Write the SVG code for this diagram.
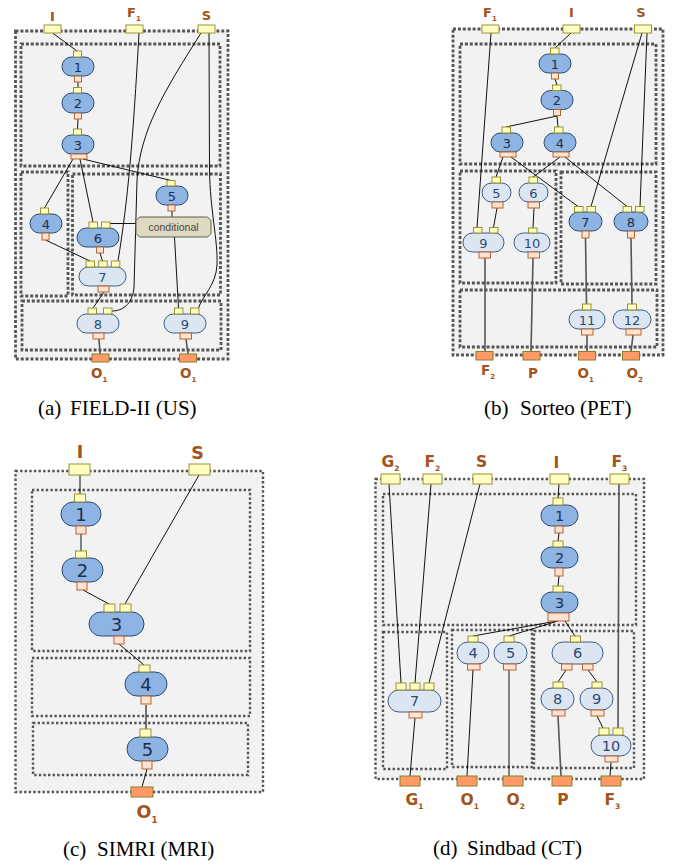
<svg xmlns="http://www.w3.org/2000/svg" width="678" height="865" viewBox="0 0 678 865">
<style>
.bx{fill:#f2f2f2;stroke:#555;stroke-width:2.8;stroke-dasharray:3 1.9}
.bx2{fill:#f2f2f2;stroke:#555;stroke-width:2.4;stroke-dasharray:2.4 2.2}
.nb{fill:#8db4e2;stroke:#2c4a72;stroke-width:1}
.nl{fill:#dce6f2;stroke:#3d5c86;stroke-width:1}
.ip{fill:#ffffc2;stroke:#9a9430;stroke-width:1}
.op{fill:#fde3d3;stroke:#b9652c;stroke-width:1}
.fo{fill:#ff9966;stroke:#8c7f2a;stroke-width:1}
.e{fill:none;stroke:#111;stroke-width:1}
.eg{fill:none;stroke:#555;stroke-width:1.6}
.t{font-family:"DejaVu Sans",sans-serif;fill:#1d2f4e;text-anchor:middle}
.tl{font-family:"DejaVu Sans",sans-serif;fill:#2d4a73;text-anchor:middle}
.lb{font-family:"DejaVu Sans",sans-serif;font-weight:bold;fill:#a3531c}
.sub{font-size:7px}
.cap{font-family:"Liberation Serif",serif;font-size:21px;fill:#000}
.cond{fill:#ddd9c3;stroke:#5f5f46;stroke-width:1}
</style>

<!-- ===== Panel (a) clusters ===== -->
<g id="a-clusters">
<rect class="bx" x="15.5" y="31" width="212.5" height="328"/>
<rect class="bx" x="21" y="44" width="199" height="122"/>
<rect class="bx" x="21" y="172" width="47" height="124"/>
<rect class="bx" x="72.5" y="174" width="148" height="121"/>
<rect class="bx" x="22" y="301" width="199" height="49"/>
</g>
<!-- ===== Panel (b) clusters ===== -->
<g id="b-clusters">
<rect class="bx" x="453" y="29" width="210" height="326"/>
<rect class="bx" x="460" y="44" width="196" height="120"/>
<rect class="bx" x="460" y="171" width="96" height="112"/>
<rect class="bx" x="561" y="172" width="95" height="112"/>
<rect class="bx" x="460" y="290" width="197" height="57"/>
</g>
<!-- ===== Panel (c) clusters ===== -->
<g id="c-clusters">
<rect class="bx2" x="15.5" y="471" width="247.5" height="321"/>
<rect class="bx2" x="32" y="490" width="218" height="161"/>
<rect class="bx2" x="32" y="658" width="218" height="58"/>
<rect class="bx2" x="33" y="723" width="215" height="52"/>
</g>
<!-- ===== Panel (d) clusters ===== -->
<g id="d-clusters">
<rect class="bx2" x="375.5" y="479" width="268.5" height="300"/>
<rect class="bx2" x="383" y="494" width="253" height="131"/>
<rect class="bx2" x="383" y="632" width="64" height="137"/>
<rect class="bx2" x="452" y="630" width="80" height="137"/>
<rect class="bx2" x="534" y="631" width="100" height="137"/>
</g>

<!-- ===== Connectors ===== -->
<g id="connectors">
<!-- (a) -->
<path class="e" d="M52.5,33 L77,51"/>
<path class="e" d="M78,82 L78,87.5"/>
<path class="e" d="M78,119 L77.5,129"/>
<path class="e" d="M73,159 L44.5,208"/>
<path class="e" d="M80,159 L93,222"/>
<path class="e" d="M83,159 L171,180.5"/>
<path class="e" d="M172,211 L172,217"/>
<path class="e" d="M136,223.5 L110,223.5"/>
<path class="e" d="M174.5,237 L178.5,308"/>
<path class="e" d="M45.5,240 L90,261"/>
<path class="e" d="M100,253 L102.5,261"/>
<path class="e" d="M139,33 C133,140 128,200 118,261"/>
<path class="e" d="M201,33 C165,90 140,130 137,180 L134,288 C132,305 122,311 112,311"/>
<path class="e" d="M209,33 L209.5,170 C210,210 218,240 217,265 C216,285 203,295 198,309"/>
<path class="e" d="M104,292 L93,308"/>
<path class="eg" d="M99,339 L100,354"/>
<path class="eg" d="M186,339 L188,354"/>
<!-- (b) -->
<path class="e" d="M571,33 L555,48"/>
<path class="e" d="M555,79 L557,85"/>
<path class="e" d="M557,116 L506,127"/>
<path class="e" d="M557,116 L558,127"/>
<path class="e" d="M503,157 L496,177"/>
<path class="e" d="M511,157 L578,206.5"/>
<path class="e" d="M560,157 L533,177"/>
<path class="e" d="M565,157 L627,206.5"/>
<path class="e" d="M491,33 L477,227.5"/>
<path class="e" d="M642,33 L591,206.5"/>
<path class="e" d="M647,33 L640,206.5"/>
<path class="e" d="M497,208 L493.5,227.5"/>
<path class="e" d="M534,208 L533,228"/>
<path class="eg" d="M485,258 L485,351.5"/>
<path class="eg" d="M533,258 L531,351.5"/>
<path class="eg" d="M585.5,238 L586.5,304"/>
<path class="eg" d="M631,238 L632,304"/>
<path class="eg" d="M587,335 L587,351.5"/>
<path class="eg" d="M633,335 L631,351.5"/>
<!-- (c) -->
<path class="e" d="M80,475 L80,494"/>
<path class="e" d="M81,534 L81,551"/>
<path class="e" d="M83,590 L109,604"/>
<path class="e" d="M199,475 L125,604"/>
<path class="e" d="M119,644 L144,665"/>
<path class="eg" d="M146,705 L146,729"/>
<path class="e" d="M147,769 L142,787"/>
<!-- (d) -->
<path class="e" d="M389,484 L401,683"/>
<path class="e" d="M431,484 L415,683"/>
<path class="e" d="M480,484 L429,683"/>
<path class="e" d="M559,484 L558,498"/>
<path class="e" d="M559,533 L558,541"/>
<path class="e" d="M559,576 L558,586"/>
<path class="eg" d="M619,484 L618,728"/>
<path class="e" d="M557,621 L473,636"/>
<path class="e" d="M558,621 L509,636"/>
<path class="e" d="M565,621 L575,636"/>
<path class="e" d="M566,670 L558,682"/>
<path class="e" d="M588,670 L597,682"/>
<path class="e" d="M597,716 L603,728"/>
<path class="e" d="M415,718 L410,776"/>
<path class="e" d="M473,670 L467,776"/>
<path class="e" d="M509,670 L509,776"/>
<path class="eg" d="M558,716 L561,776"/>
<path class="e" d="M611,762 L610,776"/>
</g>

<!-- ===== Panel (a) nodes ===== -->
<g id="a-in-I"><rect class="ip" x="44" y="25" width="17" height="8"/><text class="lb" x="52.5" y="20.5" font-size="13" text-anchor="middle">I</text></g>
<g id="a-in-F1"><rect class="ip" x="126" y="25" width="17" height="8"/><text class="lb" x="127" y="17" font-size="13">F<tspan class="sub" dy="4">1</tspan></text></g>
<g id="a-in-S"><rect class="ip" x="198" y="25" width="17" height="8"/><text class="lb" x="206.5" y="19.5" font-size="13" text-anchor="middle">S</text></g>
<g id="a-n1"><rect class="nb" x="62" y="57" width="32" height="19" rx="9.5"/><rect class="ip" x="73.5" y="51" width="8" height="6"/><rect class="op" x="74.5" y="76" width="7" height="6"/><text class="t" x="78" y="71.5" font-size="13">1</text></g>
<g id="a-n2"><rect class="nb" x="62" y="93" width="32" height="20" rx="10"/><rect class="ip" x="73.5" y="87.5" width="8" height="5.5"/><rect class="op" x="74.5" y="113" width="7" height="6"/><text class="t" x="78" y="107.5" font-size="13">2</text></g>
<g id="a-n3"><rect class="nb" x="62" y="135" width="32" height="19" rx="9.5"/><rect class="ip" x="73.5" y="129" width="8" height="6"/><rect class="op" x="71" y="154" width="16" height="5"/><text class="t" x="78" y="149.5" font-size="13">3</text></g>
<g id="a-n4"><rect class="nb" x="30" y="214" width="32" height="19" rx="9.5"/><rect class="ip" x="40.5" y="208" width="8" height="6"/><rect class="op" x="42" y="233" width="7" height="7"/><text class="t" x="46" y="228.5" font-size="13">4</text></g>
<g id="a-n5"><rect class="nb" x="156" y="186" width="32" height="19" rx="9.5"/><rect class="ip" x="167" y="180.5" width="8" height="5.5"/><rect class="op" x="168" y="205" width="7" height="6"/><text class="t" x="172" y="200.5" font-size="13">5</text></g>
<g id="a-cond"><polygon class="cond" points="139.5,217 207.5,217 211,220.5 211,233.5 207.5,237 139.5,237 136,233.5 136,220.5"/><text x="173.5" y="230.5" font-family="Liberation Sans, sans-serif" font-size="10.5" fill="#4a4a3a" text-anchor="middle">conditional</text></g>
<g id="a-n6"><rect class="nb" x="77" y="228" width="42" height="19" rx="9.5"/><rect class="ip" x="89" y="222" width="8.5" height="6"/><rect class="ip" x="101.5" y="222" width="8.5" height="6"/><rect class="op" x="96.5" y="247" width="7" height="6"/><text class="t" x="98" y="242.5" font-size="13">6</text></g>
<g id="a-n7"><rect class="nl" x="79" y="267" width="47" height="19" rx="9.5"/><rect class="ip" x="86" y="261" width="8.5" height="6"/><rect class="ip" x="98.7" y="261" width="8.5" height="6"/><rect class="ip" x="111.3" y="261" width="8.5" height="6"/><rect class="op" x="98" y="286" width="11" height="6"/><text class="tl" x="102.5" y="281.5" font-size="13">7</text></g>
<g id="a-n8"><rect class="nl" x="77" y="314" width="42" height="19" rx="9.5"/><rect class="ip" x="88" y="308" width="8.5" height="6"/><rect class="ip" x="103.5" y="308" width="8.5" height="6"/><rect class="op" x="93" y="333" width="11" height="6"/><text class="tl" x="98" y="328.5" font-size="13">8</text></g>
<g id="a-n9"><rect class="nl" x="164" y="314" width="42" height="19" rx="9.5"/><rect class="ip" x="174.5" y="308" width="8.5" height="6"/><rect class="ip" x="190.5" y="308" width="8.5" height="6"/><rect class="op" x="180" y="333" width="11.5" height="6"/><text class="tl" x="185" y="328.5" font-size="13">9</text></g>
<g id="a-out-O1a"><rect class="fo" x="92" y="354" width="17" height="8"/><text class="lb" x="91" y="378" font-size="13.5">O<tspan class="sub" dy="4">1</tspan></text></g>
<g id="a-out-O1b"><rect class="fo" x="179.5" y="354" width="17" height="8"/><text class="lb" x="180" y="378" font-size="13.5">O<tspan class="sub" dy="4">1</tspan></text></g>

<!-- ===== Panel (b) nodes ===== -->
<g id="b-in-F1"><rect class="ip" x="482" y="25" width="17" height="8"/><text class="lb" x="483" y="16.5" font-size="13">F<tspan class="sub" dy="4">1</tspan></text></g>
<g id="b-in-I"><rect class="ip" x="563" y="25" width="17" height="8"/><text class="lb" x="571.5" y="16.5" font-size="13" text-anchor="middle">I</text></g>
<g id="b-in-S"><rect class="ip" x="634.5" y="25" width="17" height="8"/><text class="lb" x="641" y="16.5" font-size="13" text-anchor="middle">S</text></g>
<g id="b-n1"><rect class="nb" x="539" y="54" width="32" height="19" rx="9.5"/><rect class="ip" x="550.5" y="48" width="8.5" height="6"/><rect class="op" x="551.5" y="73" width="7" height="6"/><text class="t" x="555" y="68.5" font-size="13">1</text></g>
<g id="b-n2"><rect class="nb" x="541" y="90.5" width="32" height="19" rx="9.5"/><rect class="ip" x="552.5" y="85" width="8.5" height="5.5"/><rect class="op" x="553.5" y="109.5" width="7" height="6"/><text class="t" x="557" y="105" font-size="13">2</text></g>
<g id="b-n3"><rect class="nb" x="491" y="133" width="32" height="19" rx="9.5"/><rect class="ip" x="502" y="127" width="8.5" height="6"/><rect class="op" x="500" y="152" width="16" height="5"/><text class="t" x="507" y="147.5" font-size="13">3</text></g>
<g id="b-n4"><rect class="nb" x="544" y="133" width="32" height="19" rx="9.5"/><rect class="ip" x="554.5" y="127" width="8.5" height="6"/><rect class="op" x="553" y="152" width="16" height="5"/><text class="t" x="560" y="147.5" font-size="13">4</text></g>
<g id="b-n5"><rect class="nl" x="482" y="183" width="29" height="19" rx="9.5"/><rect class="ip" x="492" y="177" width="8.5" height="6"/><rect class="op" x="492" y="202" width="11" height="6"/><text class="tl" x="496.5" y="197.5" font-size="13">5</text></g>
<g id="b-n6"><rect class="nl" x="519" y="183" width="29" height="19" rx="9.5"/><rect class="ip" x="529" y="177" width="8.5" height="6"/><rect class="op" x="528" y="202" width="11.5" height="6"/><text class="tl" x="533.5" y="197.5" font-size="13">6</text></g>
<g id="b-n7"><rect class="nb" x="569" y="212" width="33" height="19" rx="9.5"/><rect class="ip" x="574.5" y="206.5" width="8.5" height="5.5"/><rect class="ip" x="587" y="206.5" width="8.5" height="5.5"/><rect class="op" x="582" y="231" width="7" height="7"/><text class="t" x="585.5" y="226.5" font-size="13">7</text></g>
<g id="b-n8"><rect class="nb" x="614" y="212" width="34" height="19" rx="9.5"/><rect class="ip" x="623" y="206.5" width="8.5" height="5.5"/><rect class="ip" x="635.5" y="206.5" width="8.5" height="5.5"/><rect class="op" x="627.5" y="231" width="7" height="7"/><text class="t" x="631" y="226.5" font-size="13">8</text></g>
<g id="b-n9"><rect class="nl" x="463" y="233" width="41" height="19" rx="9.5"/><rect class="ip" x="473.5" y="227.5" width="8.5" height="5.5"/><rect class="ip" x="489.5" y="227.5" width="8.5" height="5.5"/><rect class="op" x="479" y="252" width="11.5" height="6"/><text class="tl" x="483.5" y="247.5" font-size="13">9</text></g>
<g id="b-n10"><rect class="nl" x="514" y="233" width="36" height="19" rx="9.5"/><rect class="ip" x="528.5" y="228" width="8.5" height="5"/><rect class="op" x="528" y="252" width="11.5" height="6"/><text class="tl" x="532" y="247.5" font-size="13">10</text></g>
<g id="b-n11"><rect class="nl" x="569" y="310" width="36" height="19" rx="9.5"/><rect class="ip" x="582.5" y="304" width="8.5" height="6"/><rect class="op" x="581.5" y="329" width="11.5" height="6"/><text class="tl" x="587" y="324.5" font-size="13">11</text></g>
<g id="b-n12"><rect class="nl" x="613" y="310" width="38" height="19" rx="9.5"/><rect class="ip" x="627.5" y="304" width="9" height="6"/><rect class="op" x="626" y="329" width="15" height="6"/><text class="tl" x="632" y="324.5" font-size="13">12</text></g>
<g id="b-out-F2"><rect class="fo" x="476" y="351.5" width="17" height="8.5"/><text class="lb" x="481" y="375" font-size="13.5">F<tspan class="sub" dy="4">2</tspan></text></g>
<g id="b-out-P"><rect class="fo" x="523" y="351.5" width="17" height="8.5"/><text class="lb" x="533" y="378" font-size="13.5" text-anchor="middle">P</text></g>
<g id="b-out-O1"><rect class="fo" x="578.5" y="351.5" width="17" height="8.5"/><text class="lb" x="577.5" y="378" font-size="13.5">O<tspan class="sub" dy="4">1</tspan></text></g>
<g id="b-out-O2"><rect class="fo" x="622.5" y="351.5" width="17" height="8.5"/><text class="lb" x="626.5" y="378" font-size="13.5">O<tspan class="sub" dy="4">2</tspan></text></g>

<!-- ===== Panel (c) nodes ===== -->
<g id="c-in-I"><rect class="ip" x="69" y="464" width="21" height="11"/><text class="lb" x="80" y="458" font-size="17.5" text-anchor="middle">I</text></g>
<g id="c-in-S"><rect class="ip" x="189" y="464" width="21" height="11"/><text class="lb" x="197.5" y="459" font-size="17.5" text-anchor="middle">S</text></g>
<g id="c-n1"><rect class="nb" x="61" y="502" width="40" height="24" rx="12"/><rect class="ip" x="74.5" y="494" width="11" height="8"/><rect class="op" x="76" y="526" width="10" height="8"/><text class="t" x="81" y="520.5" font-size="18">1</text></g>
<g id="c-n2"><rect class="nb" x="62" y="558" width="41" height="24" rx="12"/><rect class="ip" x="75.5" y="551" width="11" height="7"/><rect class="op" x="77" y="582" width="10" height="8"/><text class="t" x="82.5" y="576.5" font-size="18">2</text></g>
<g id="c-n3"><rect class="nb" x="89" y="612" width="55" height="24" rx="12"/><rect class="ip" x="104" y="604" width="11" height="8"/><rect class="ip" x="120" y="604" width="11" height="8"/><rect class="op" x="114" y="636" width="10" height="8"/><text class="t" x="116.5" y="630.5" font-size="18">3</text></g>
<g id="c-n4"><rect class="nb" x="125" y="672" width="42" height="24" rx="12"/><rect class="ip" x="139" y="665" width="11" height="7"/><rect class="op" x="141" y="696" width="10" height="8"/><text class="t" x="146" y="690.5" font-size="18">4</text></g>
<g id="c-n5"><rect class="nb" x="127" y="737" width="41" height="24" rx="12"/><rect class="ip" x="140" y="729" width="11" height="8"/><rect class="op" x="142" y="761" width="10" height="8"/><text class="t" x="147.5" y="755.5" font-size="18">5</text></g>
<g id="c-out-O1"><rect class="fo" x="131" y="787" width="22" height="10"/><text class="lb" x="136.5" y="818" font-size="17.5">O<tspan font-size="8.5" dy="5">1</tspan></text></g>

<!-- ===== Panel (d) nodes ===== -->
<g id="d-in-G2"><rect class="ip" x="381" y="474" width="19" height="10"/><text class="lb" x="381.5" y="467" font-size="15.5">G<tspan font-size="7.5" dy="4">2</tspan></text></g>
<g id="d-in-F2"><rect class="ip" x="423" y="474" width="19" height="10"/><text class="lb" x="424.5" y="467" font-size="15.5">F<tspan font-size="7.5" dy="4">2</tspan></text></g>
<g id="d-in-S"><rect class="ip" x="473" y="474" width="19" height="10"/><text class="lb" x="481.5" y="467" font-size="15.5" text-anchor="middle">S</text></g>
<g id="d-in-I"><rect class="ip" x="550" y="474" width="19" height="10"/><text class="lb" x="556.5" y="468" font-size="15.5" text-anchor="middle">I</text></g>
<g id="d-in-F3"><rect class="ip" x="610" y="474" width="19" height="10"/><text class="lb" x="611.5" y="467" font-size="15.5">F<tspan font-size="7.5" dy="4">3</tspan></text></g>
<g id="d-n1"><rect class="nb" x="541" y="505" width="37" height="21" rx="10.5"/><rect class="ip" x="553" y="498" width="10" height="7"/><rect class="op" x="555" y="526" width="8" height="7"/><text class="t" x="559.5" y="520.5" font-size="14.5">1</text></g>
<g id="d-n2"><rect class="nb" x="541" y="547" width="37" height="21" rx="10.5"/><rect class="ip" x="553" y="541" width="10" height="6"/><rect class="op" x="555" y="568" width="8" height="8"/><text class="t" x="559.5" y="562.5" font-size="14.5">2</text></g>
<g id="d-n3"><rect class="nb" x="541" y="592" width="37" height="21" rx="10.5"/><rect class="ip" x="553" y="586" width="10" height="6"/><rect class="op" x="548" y="613" width="21" height="8"/><text class="t" x="559.5" y="607.5" font-size="14.5">3</text></g>
<g id="d-n4"><rect class="nl" x="457" y="642" width="32" height="22" rx="11"/><rect class="ip" x="468" y="636" width="10" height="6"/><rect class="op" x="467.5" y="664" width="12.5" height="6"/><text class="tl" x="473" y="658" font-size="14.5">4</text></g>
<g id="d-n5"><rect class="nl" x="494" y="642" width="33" height="22" rx="11"/><rect class="ip" x="504" y="636" width="10" height="6"/><rect class="op" x="503.5" y="664" width="12.5" height="6"/><text class="tl" x="510.5" y="658" font-size="14.5">5</text></g>
<g id="d-n6"><rect class="nl" x="552" y="642" width="51" height="22" rx="11"/><rect class="ip" x="570.5" y="636" width="10" height="6"/><rect class="op" x="561.5" y="664" width="10.5" height="6"/><rect class="op" x="582.5" y="664" width="10.5" height="6"/><text class="tl" x="577.5" y="658" font-size="14.5">6</text></g>
<g id="d-n7"><rect class="nl" x="388" y="690" width="53" height="22" rx="11"/><rect class="ip" x="396" y="683" width="10" height="7"/><rect class="ip" x="410" y="683" width="10" height="7"/><rect class="ip" x="424" y="683" width="10" height="7"/><rect class="op" x="409" y="712" width="13" height="6"/><text class="tl" x="414.5" y="706" font-size="14.5">7</text></g>
<g id="d-n8"><rect class="nl" x="541" y="688" width="33" height="22" rx="11"/><rect class="ip" x="553" y="682" width="10" height="6"/><rect class="op" x="552" y="710" width="13" height="6"/><text class="tl" x="557.5" y="704" font-size="14.5">8</text></g>
<g id="d-n9"><rect class="nl" x="580" y="688" width="33" height="22" rx="11"/><rect class="ip" x="592" y="682" width="10" height="6"/><rect class="op" x="591" y="710" width="13" height="6"/><text class="tl" x="596.5" y="704" font-size="14.5">9</text></g>
<g id="d-n10"><rect class="nl" x="591" y="735" width="40" height="21" rx="10.5"/><rect class="ip" x="599" y="728" width="10" height="7"/><rect class="ip" x="613" y="728" width="10" height="7"/><rect class="op" x="605" y="756" width="13" height="6"/><text class="tl" x="611" y="750.5" font-size="14.5">10</text></g>
<g id="d-out-G1"><rect class="fo" x="400" y="776" width="20" height="10"/><text class="lb" x="405.5" y="805" font-size="15.5">G<tspan font-size="7.5" dy="4">1</tspan></text></g>
<g id="d-out-O1"><rect class="fo" x="457" y="776" width="20" height="10"/><text class="lb" x="460.5" y="805" font-size="15.5">O<tspan font-size="7.5" dy="4">1</tspan></text></g>
<g id="d-out-O2"><rect class="fo" x="503" y="776" width="20" height="10"/><text class="lb" x="506.5" y="805" font-size="15.5">O<tspan font-size="7.5" dy="4">2</tspan></text></g>
<g id="d-out-P"><rect class="fo" x="552" y="776" width="20" height="10"/><text class="lb" x="563" y="805" font-size="15.5" text-anchor="middle">P</text></g>
<g id="d-out-F3"><rect class="fo" x="601" y="776" width="20" height="10"/><text class="lb" x="604.5" y="805" font-size="15.5">F<tspan font-size="7.5" dy="4">3</tspan></text></g>

<!-- ===== Captions ===== -->
<g id="captions">
<text class="cap" x="38" y="415">(a)</text><text class="cap" x="70" y="415">FIELD-II (US)</text>
<text class="cap" x="484" y="415">(b)</text><text class="cap" x="520" y="415">Sorteo (PET)</text>
<text class="cap" x="63" y="856">(c)</text><text class="cap" x="97" y="856">SIMRI (MRI)</text>
<text class="cap" x="433" y="855">(d)</text><text class="cap" x="467" y="855">Sindbad (CT)</text>
</g>
</svg>
